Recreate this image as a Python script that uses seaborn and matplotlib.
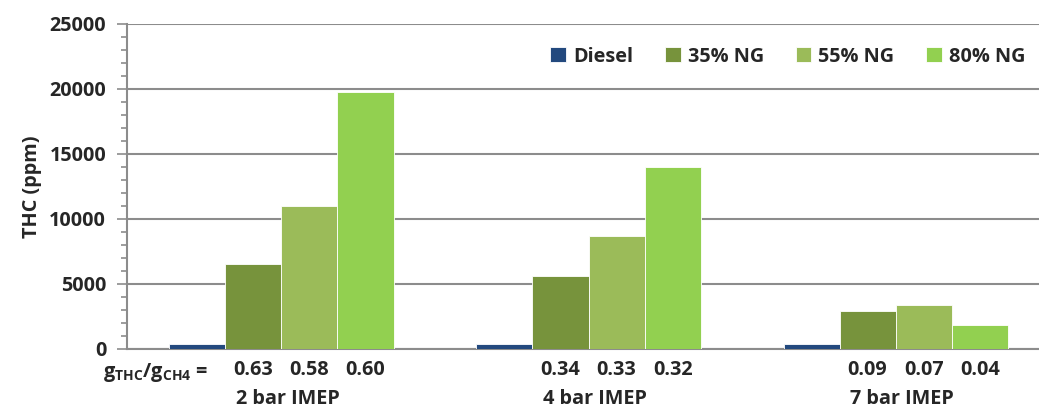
import matplotlib
matplotlib.use("Agg")
import matplotlib.pyplot as plt
import seaborn as sns
import pandas as pd
import numpy as np

loads = ["2 bar IMEP", "4 bar IMEP", "7 bar IMEP"]
fuels = ["Diesel", "35% NG", "55% NG", "80% NG"]
diesel = [400, 400, 350]
ng35 = [6500, 5600, 2900]
ng55 = [11000, 8700, 3400]
ng80 = [19800, 14000, 1800]
ratio35 = ["0.63", "0.34", "0.09"]
ratio55 = ["0.58", "0.33", "0.07"]
ratio80 = ["0.60", "0.32", "0.04"]
colors = ["#23497E", "#77933C", "#9BBB59", "#92D050"]

rows = []
for series, fuel in zip([diesel, ng35, ng55, ng80], fuels):
    for load, v in zip(loads, series):
        rows.append({"load": load, "fuel": fuel, "thc": v})
df = pd.DataFrame(rows)

sns.set_theme(style="white")
FONT = "Open Sans"
plt.rcParams["font.family"] = [FONT, "DejaVu Sans"]
plt.rcParams["font.weight"] = "bold"
plt.rcParams["mathtext.fontset"] = "custom"
plt.rcParams["mathtext.bf"] = f"{FONT}:bold"
plt.rcParams["mathtext.rm"] = f"{FONT}:bold"

fig = plt.figure(figsize=(10.39, 4.08), dpi=100)
ax = fig.add_axes([127 / 1039, 1 - 348.7 / 408, 1 - 127 / 1039, (348.7 - 24) / 408])

sns.barplot(data=df, x="load", y="thc", hue="fuel", hue_order=fuels, order=loads,
            palette=colors, width=0.73, edgecolor="white", linewidth=0.6,
            saturation=1, ax=ax, zorder=3)

FS = 14.3
ax.set_ylim(0, 25000)
ax.set_xlim(-0.503, 2.467)
ax.set_yticks(np.arange(0, 25001, 5000))
ax.set_yticks(np.arange(0, 25001, 1000), minor=True)
ax.yaxis.grid(True, which="major", color="#8C8C8C", linewidth=1.5, zorder=0)
ax.set_axisbelow(True)
ax.tick_params(axis="y", which="major", direction="out", length=7, width=1.2,
               color="#8C8C8C", labelsize=FS, pad=8, left=True)
ax.tick_params(axis="y", which="minor", direction="out", length=4, width=1.2,
               color="#8C8C8C", left=True)
for lab in ax.get_yticklabels():
    lab.set_fontweight("bold")
ax.set_xticks([])
ax.set_xlabel("")
ax.set_ylabel("THC (ppm)", fontsize=FS, fontweight="bold", labelpad=5)
for s in ["top", "right"]:
    ax.spines[s].set_visible(False)
for s in ["left", "bottom"]:
    ax.spines[s].set_color("#8C8C8C")
    ax.spines[s].set_linewidth(1.5)

# ratio labels under NG bars
ratios = [ratio35, ratio55, ratio80]
containers = ax.containers
trans = ax.get_xaxis_transform()
for ci, rlist in zip(containers[1:], ratios):
    for bar, r in zip(ci.patches, rlist):
        cx = bar.get_x() + bar.get_width() / 2
        ax.text(cx, -0.065, r, transform=trans, ha="center", va="center",
                fontsize=FS, fontweight="bold", clip_on=False)
for i, load in enumerate(loads):
    ax.text(i + 0.02, -0.155, load, transform=trans, ha="center", va="center",
            fontsize=FS, fontweight="bold", clip_on=False)
fig.text(103 / 1039, 1 - 372 / 408, r"$\mathbf{g_{THC}/g_{CH4}}$ =", ha="left",
         va="center", fontsize=FS, fontweight="bold")

leg = ax.legend(loc="upper right", bbox_to_anchor=(1.005, 0.985), ncol=4, frameon=False,
                handlelength=0.8, handleheight=0.8, handletextpad=0.35,
                columnspacing=1.6, prop={"size": FS, "weight": "bold"})

fig.savefig("out.png", dpi=100)
